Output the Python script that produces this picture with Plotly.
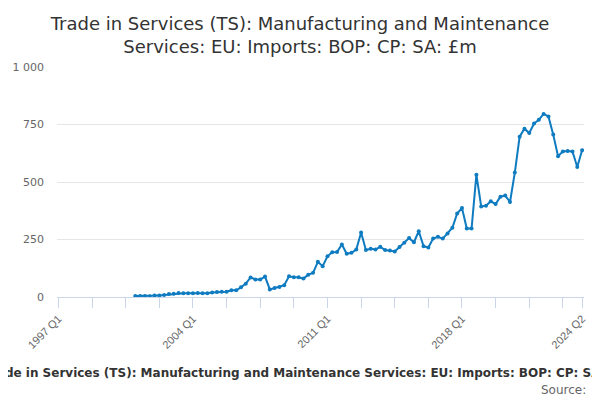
import plotly.graph_objects as go

# Quarter labels 1997 Q1 .. 2024 Q2
years = list(range(1997, 2025))
quarters = [f"{y} Q{q}" for y in years for q in range(1, 5)][:110]

first_quarter = "2001 Q1"
values = [4, 4, 4, 3, 6, 7, 9, 13, 14, 17, 16, 16, 16, 17, 16, 16, 20, 22, 23, 23,
          29, 29, 42, 58, 85, 76, 76, 89, 33, 39, 44, 51, 90, 86, 86, 80, 97, 105,
          153, 134, 177, 195, 196, 228, 188, 192, 206, 280, 204, 210, 207, 218, 204,
          202, 198, 217, 236, 256, 238, 286, 221, 215, 254, 262, 254, 276, 301, 363,
          387, 298, 298, 532, 394, 397, 416, 404, 436, 441, 413, 541, 697, 732, 713,
          754, 771, 796, 785, 706, 612, 633, 635, 633, 565, 638]

start = quarters.index(first_quarter)
x_data = quarters[start:start + len(values)]

tick_labels = ["1997 Q1", "2004 Q1", "2011 Q1", "2018 Q1", "2024 Q2"]
tick_positions = quarters[::7] + [quarters[-1]]
tick_text = [q if q in tick_labels else "" for q in tick_positions]

y_ticks = [0, 250, 500, 750, 1000]
y_tick_text = ["0", "250", "500", "750", "1 000"]

title = "Trade in Services (TS): Manufacturing and Maintenance Services: EU: Imports: BOP: CP: SA: £m"

# the page body has an 8px margin, so the figure is 592x392 placed at (8, 8)
W, H = 592, 392
ML, MR, MT, MB = 49, 16, 59, 102.7

fig = go.Figure()
fig.add_trace(go.Scatter(
    x=x_data, y=values, mode="lines+markers",
    line=dict(color="#0f7bc0", width=2),
    marker=dict(color="#0f7bc0", size=4),
    hoverinfo="x+y", showlegend=False,
))

fig.update_layout(
    width=W, height=H,
    margin=dict(l=ML, r=MR, t=MT, b=MB, autoexpand=False),
    paper_bgcolor="white", plot_bgcolor="white",
    font=dict(family="DejaVu Sans", color="#666666"),
    title=dict(
        text="Trade in Services (TS): Manufacturing and Maintenance<br>Services: EU: Imports: BOP: CP: SA: £m",
        xref="container", x=292 / W, xanchor="center",
        yref="container", y=1 - 21.5 / H, yanchor="middle",
        font=dict(family="DejaVu Sans", size=18, color="#333333"),
    ),
    xaxis=dict(
        type="category", categoryorder="array", categoryarray=quarters,
        range=[-0.3, len(quarters) - 0.6],
        tickmode="array", tickvals=tick_positions, ticktext=tick_text,
        tickangle=-45, ticks="outside", ticklen=10, tickcolor="#ccd6eb", tickwidth=1,
        showline=True, linecolor="#ccd6eb", linewidth=1,
        showgrid=False, zeroline=False,
        tickfont=dict(family="Liberation Sans", size=11, color="#666666"),
    ),
    yaxis=dict(
        range=[0, 1000], tickmode="array", tickvals=y_ticks, ticktext=y_tick_text,
        showgrid=True, gridcolor="#e6e6e6", gridwidth=1,
        zeroline=False, showline=False, ticks="",
        ticklabelstandoff=12,
        tickfont=dict(family="DejaVu Sans", size=11, color="#666666"),
    ),
    annotations=[
        dict(text="<b>" + title + "</b>", xref="paper", yref="paper",
             x=0.5, xanchor="center", xshift=-13.5,
             y=0, yanchor="middle", yshift=-75.7, showarrow=False,
             font=dict(family="DejaVu Sans", size=12, color="#333333")),
        dict(text="Source:", xref="paper", yref="paper",
             x=1.0, xanchor="right", xshift=4,
             y=0, yanchor="middle", yshift=-93.2, showarrow=False,
             font=dict(family="DejaVu Sans", size=12, color="#666666")),
    ],
)

fig.write_html("out.html")
